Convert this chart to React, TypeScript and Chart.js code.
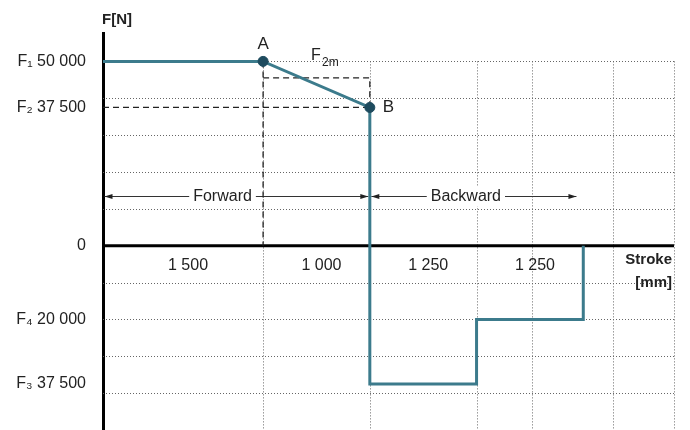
import { useEffect, useRef } from "react";
import { Chart, registerables } from "chart.js";
Chart.register(...registerables);

// Schematic stroke positions (grid units) and their labelled lengths
const strokeBounds = [0, 1.5, 2.5, 3.5, 4.5];
const strokeLabels = ["1 500", "1 000", "1 250", "1 250"];
// Force profile
const profileX = [0, 1.5, 2.5, 2.5, 3.5, 3.5, 4.5, 4.5];
const profileF = [50000, 50000, 37500, -37500, -37500, -20000, -20000, 0];
// Y tick values and labels
const yTickValues = [-37500, -20000, 0, 37500, 50000];
const yTickLabels = ["F₃ 37 500", "F₄ 20 000", "0", "F₂ 37 500", "F₁ 50 000"];
const f2mLevel = 45500;
const arrowLevel = 13500;
const gridY = [50000, 40000, 30000, 20000, 10000, -10000, -20000, -30000, -40000];
const gridX = [1.5, 2.5, 3.5, 4.02, 4.78, 5.35];

const X_MAX = 5.35;
const Y_MIN = -50000;
const Y_MAX = 57700;
const FONT = '"Liberation Sans", Arial, sans-serif';
const TEAL = "#3c7b8c";
const DARK = "#1e4b5e";
const TXT = "#222";

function arrowHead(ctx: CanvasRenderingContext2D, x: number, y: number, dir: number) {
  ctx.beginPath();
  ctx.moveTo(x, y);
  ctx.lineTo(x - dir * 8, y - 2.5);
  ctx.lineTo(x - dir * 8, y + 2.5);
  ctx.closePath();
  ctx.fill();
}

const overlay = {
  id: "overlay",
  beforeDatasetsDraw(chart: any) {
    const { ctx, scales } = chart;
    const x = scales.x, y = scales.y;
    ctx.save();
    // grid
    ctx.strokeStyle = "#666";
    ctx.lineWidth = 1;
    ctx.setLineDash([1, 2]);
    const x0 = x.getPixelForValue(0), x1 = x.getPixelForValue(X_MAX);
    gridY.forEach((v) => {
      const py = Math.round(y.getPixelForValue(v)) + 0.5;
      ctx.beginPath();
      ctx.moveTo(x0, py);
      ctx.lineTo(x1, py);
      ctx.stroke();
    });
    const top = y.getPixelForValue(50000), bot = y.getPixelForValue(Y_MIN);
    gridX.forEach((v) => {
      const px = Math.round(x.getPixelForValue(v)) + 0.5;
      ctx.beginPath();
      ctx.moveTo(px, top);
      ctx.lineTo(px, bot);
      ctx.stroke();
    });
    ctx.setLineDash([]);
    // zero axis
    const yz = y.getPixelForValue(0);
    ctx.strokeStyle = "#000";
    ctx.lineWidth = 3;
    ctx.beginPath();
    ctx.moveTo(x0, yz);
    ctx.lineTo(x1, yz);
    ctx.stroke();
    // arrows
    const ay = Math.round(y.getPixelForValue(arrowLevel)) + 0.5;
    const drawArrow = (a: number, b: number, label: string, cx: number) => {
      const pa = x.getPixelForValue(a) + 1.5, pb = x.getPixelForValue(b) - 1.5;
      ctx.strokeStyle = "#333";
      ctx.fillStyle = "#222";
      ctx.lineWidth = 1;
      ctx.beginPath();
      ctx.moveTo(pa, ay);
      ctx.lineTo(pb, ay);
      ctx.stroke();
      arrowHead(ctx, pa, ay, -1);
      arrowHead(ctx, pb, ay, 1);
      ctx.font = `16px ${FONT}`;
      const w = ctx.measureText(label).width;
      const pc = x.getPixelForValue(cx);
      ctx.fillStyle = "#fff";
      ctx.fillRect(pc - w / 2 - 4, ay - 10, w + 8, 20);
      ctx.fillStyle = TXT;
      ctx.textAlign = "center";
      ctx.textBaseline = "middle";
      ctx.fillText(label, pc, ay);
    };
    drawArrow(strokeBounds[0], strokeBounds[2], "Forward", 1.12);
    drawArrow(strokeBounds[2], 4.45, "Backward", 3.4);
    ctx.restore();
  },
  afterDatasetsDraw(chart: any) {
    const { ctx, scales } = chart;
    const x = scales.x, y = scales.y;
    ctx.save();
    ctx.fillStyle = TXT;
    const yz = y.getPixelForValue(0);
    // segment labels
    ctx.font = `16px ${FONT}`;
    ctx.textAlign = "center";
    ctx.textBaseline = "middle";
    strokeLabels.forEach((lab, i) => {
      const mid = (strokeBounds[i] + strokeBounds[i + 1]) / 2;
      ctx.fillText(lab, x.getPixelForValue(mid) + 5, yz + 20);
    });
    // axis titles
    ctx.font = `bold 15px ${FONT}`;
    ctx.textAlign = "right";
    ctx.fillText("Stroke", 672, yz + 14);
    ctx.fillText("[mm]", 672, yz + 37);
    ctx.textAlign = "left";
    ctx.fillText("F[N]", 102, 20);
    // point labels
    const ax = x.getPixelForValue(strokeBounds[1]), ayp = y.getPixelForValue(50000);
    const bx = x.getPixelForValue(strokeBounds[2]), byp = y.getPixelForValue(37500);
    ctx.font = `17px ${FONT}`;
    ctx.textAlign = "center";
    ctx.fillText("A", ax, ayp - 17);
    ctx.textAlign = "left";
    ctx.fillText("B", bx + 13, byp);
    ctx.font = `16px ${FONT}`;
    ctx.fillText("F", ax + 48, ayp - 6);
    ctx.font = `12px ${FONT}`;
    ctx.fillText("2m", ax + 59, ayp + 1);
    ctx.restore();
  },
};

export default function App() {
  const ref = useRef<HTMLCanvasElement | null>(null);
  useEffect(() => {
    document.body.style.margin = "0";
    const canvas = ref.current;
    if (!canvas) return;
    const dash = {
      borderColor: "#222",
      borderWidth: 1.3,
      borderDash: [6, 4],
      pointRadius: 0,
      showLine: true,
      fill: false,
    };
    const chart = new Chart(canvas, {
      type: "scatter",
      data: {
        datasets: [
          {
            data: [
              { x: strokeBounds[1], y: profileF[1] },
              { x: strokeBounds[2], y: profileF[2] },
            ],
            pointRadius: 5,
            pointBackgroundColor: DARK,
            pointBorderColor: DARK,
            showLine: false,
          } as any,
          {
            data: profileX.map((v, i) => ({ x: v, y: profileF[i] })),
            borderColor: TEAL,
            borderWidth: 3,
            pointRadius: 0,
            showLine: true,
            fill: false,
            tension: 0,
          },
          { ...dash, data: [{ x: 0, y: 37500 }, { x: strokeBounds[2], y: 37500 }] },
          {
            ...dash,
            data: [
              { x: strokeBounds[1], y: f2mLevel },
              { x: strokeBounds[2], y: f2mLevel },
              { x: strokeBounds[2], y: 37500 },
            ],
          },
          { ...dash, data: [{ x: strokeBounds[1], y: 50000 }, { x: strokeBounds[1], y: 0 }] },
        ],
      },
      options: {
        responsive: false,
        animation: false,
        devicePixelRatio: 1,
        layout: { autoPadding: false, padding: { left: 0, top: 33, right: 16, bottom: 0 } },
        plugins: { legend: { display: false }, tooltip: { enabled: false } },
        scales: {
          x: { type: "linear", min: 0, max: X_MAX, display: false },
          y: {
            type: "linear",
            min: Y_MIN,
            max: Y_MAX,
            grid: { display: false },
            border: { display: true, color: "#000", width: 3 },
            afterFit: (s: any) => {
              s.width = 103;
              s.paddingTop = 0;
              s.paddingBottom = 0;
            },
            afterBuildTicks: (s: any) => {
              s.ticks = yTickValues.map((v) => ({ value: v }));
            },
            ticks: {
              padding: 9,
              color: TXT,
              font: { size: 16, family: FONT },
              callback: (v: any) => {
                const i = yTickValues.indexOf(Number(v));
                return i >= 0 ? yTickLabels[i] : "";
              },
            },
          },
        },
      },
      plugins: [overlay],
    } as any);
    return () => chart.destroy();
  }, []);
  return (
    <div style={{ width: 690, height: 430 }}>
      <canvas ref={ref} width={690} height={430} />
    </div>
  );
}
